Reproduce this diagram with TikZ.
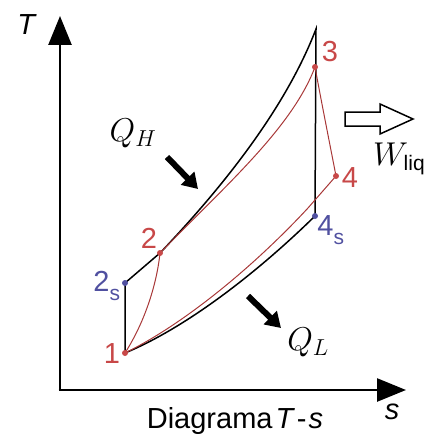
\RequirePackage{fix-cm}
\documentclass[tikz,border=0pt]{standalone}
\usepackage{fontspec}
\setmainfont{Liberation Sans}
\usetikzlibrary{arrows.meta}
\definecolor{ptred}{HTML}{C84848}
\definecolor{lnred}{HTML}{A83838}
\definecolor{ptblue}{HTML}{5050A0}
\begin{document}
\begin{tikzpicture}[x=1pt,y=-1pt,
  lbl/.style={font=\fontsize{29}{32}\selectfont, inner sep=0pt},
  mlbl/.style={font=\fontsize{33}{38}\selectfont, inner sep=0pt},
  axis/.style={line width=2.6pt, -{Triangle[length=29pt,width=23pt]}},
  qarrow/.style={line width=6pt, -{Triangle[length=15pt,width=18pt]}},
  ideal/.style={line width=1.5pt, black},
  real/.style={line width=1pt, lnred},
  rdot/.style={circle, fill=ptred, minimum size=6pt, inner sep=0pt},
  bdot/.style={circle, fill=ptblue, minimum size=6pt, inner sep=0pt}]
\useasboundingbox (0,0) rectangle (438,444);
% axes
\coordinate (o) at (60,390);
\coordinate (ytip) at (60,16);
\coordinate (xtip) at (406,390);
\draw[axis] (o) -- (ytip);
\draw[axis] ([xshift=-1.3pt]o) -- (xtip);
\node[lbl] (tl) at (27,25) {\textit{T}};
\node[lbl] (sl) at (392,412) {\textit{s}};
\node[lbl] (cap) at (235,421) {Diagrama\hspace{3pt}\textit{T}\hspace{2pt}-\hspace{2pt}\textit{s}};
% state points
\coordinate (p1) at (125,353);
\coordinate (p2s) at (125,283);
\coordinate (p2) at (160,253);
\coordinate (p3t) at (316,29);
\coordinate (p3) at (315,67);
\coordinate (p4) at (336,176);
\coordinate (p4s) at (315,216);
\coordinate (pm) at (308,208);
% ideal cycle
\draw[ideal] (p1) -- (p2s) -- (p2) .. controls (220,190) and (285,110) .. (p3t) -- (p4s);
\draw[ideal] (p1) .. controls (190,326) and (262,268) .. (p4s);
% real cycle
\draw[real] (p1) .. controls (146,320) and (157,282) .. (p2);
\draw[real] (p2) .. controls (225,186) and (292,128) .. (p3);
\draw[real] (p3) .. controls (322,105) and (330,145) .. (p4);
\draw[real] (p1) .. controls (188,322) and (258,262) .. (pm) -- (p4);
% dots
\node[rdot] (d1) at (p1) {};
\node[rdot] (d2) at (p2) {};
\node[rdot] (d3) at (p3) {};
\node[rdot] (d4) at (p4) {};
\node[bdot] (d2s) at (p2s) {};
\node[bdot] (d4s) at (p4s) {};
% point labels
\node[lbl, text=ptred] (l1) at (112,354) {1};
\node[lbl, text=ptred] (l2) at (149,238) {2};
\node[lbl, text=ptred] (l3) at (330,52) {3};
\node[lbl, text=ptred] (l4) at (350,178) {4};
\node[lbl, text=ptblue] (l2s) at (107,286) {2\textsubscript{\fontsize{21}{24}\selectfont\raisebox{-4pt}{s}}};
\node[lbl, text=ptblue] (l4s) at (331,230) {4\textsubscript{\fontsize{21}{24}\selectfont\raisebox{-4pt}{s}}};
% heat arrows
\coordinate (qh1) at (167,157);
\coordinate (qh2) at (198,189);
\draw[qarrow] (qh1) -- (qh2);
\node[mlbl] (qhl) at (133,133) {$Q_H$};
\coordinate (ql1) at (248,296);
\coordinate (ql2) at (281,328);
\draw[qarrow] (ql1) -- (ql2);
\node[mlbl] (qll) at (308,342) {$Q_L$};
% work arrow
\draw[line width=1.5pt, fill=white] (345,112) -- (380,112) -- (380,104) -- (413,119) -- (380,134) -- (380,126) -- (345,126) -- cycle;
\node[mlbl, anchor=west] (wl) at (373,159) {$W_{\mbox{\fontsize{21}{24}\selectfont liq}}$};
\end{tikzpicture}
\end{document}
